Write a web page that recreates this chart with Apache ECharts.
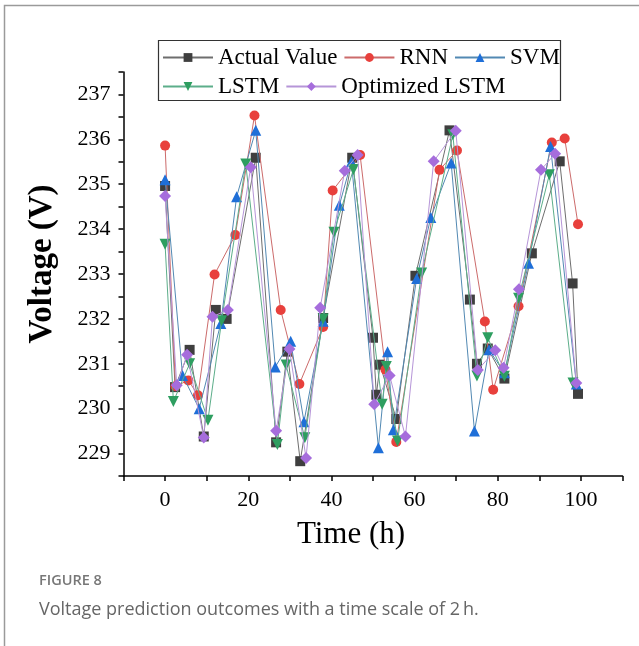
<!DOCTYPE html>
<html>
<head>
<meta charset="utf-8">
<script src="https://cdn.jsdelivr.net/npm/echarts@6/dist/echarts.min.js"></script>
<style>
html,body{margin:0;padding:0;background:#fff;}
#c{width:639px;height:646px;}
</style>
</head>
<body>
<div id="c"></div>
<script>
const seriesNames = ['Actual Value', 'RNN', 'SVM', 'LSTM', 'Optimized LSTM'];

const actualTime = [0,2.4,5.9,9.3,12.2,14.8,21.8,26.7,29.4,32.5,38,45,50,50.8,51.7,55.6,60.2,68.4,73.3,75,77.6,81.6,88.2,94.9,98,99.3];
const actualVoltage = [234.96,230.48,231.31,229.38,232.2,232.0,235.59,229.25,231.27,228.83,232.02,235.59,231.58,230.31,230.98,229.77,232.96,236.2,232.43,231.0,231.34,230.67,233.46,235.51,232.79,230.33];

const rnnTime = [0,2.5,5.6,7.9,11.9,16.9,21.5,27.8,32.3,38,40.3,46.9,53,55.6,66,70.2,76.9,78.9,85,93,96.1,99.3];
const rnnVoltage = [235.86,230.5,230.63,230.3,232.99,233.87,236.53,232.2,230.55,231.82,234.86,235.65,230.87,229.26,235.32,235.75,231.94,230.42,232.28,235.93,236.02,234.11];

const svmTime = [0,4.2,8.2,13.4,17.2,21.8,26.5,30.2,33.4,38,41.9,44.8,51.3,53.5,54.9,60.5,63.9,68.8,74.4,77.9,81.6,87.4,92.7,98.9];
const svmVoltage = [235.1,230.74,230.0,231.9,234.72,236.2,230.93,231.5,229.71,231.95,234.53,235.5,229.13,231.27,229.53,232.9,234.26,235.47,229.5,231.31,230.8,233.24,235.84,230.55];

const lstmTime = [0,2,5.9,10.3,13.6,19.4,27,29.1,33.6,38,40.6,45.3,52.2,53.2,55.9,61.7,69.2,75,77.6,81.6,85,92.4,98.1];
const lstmVoltage = [233.66,230.16,231.0,229.74,231.96,235.45,229.2,230.97,229.35,232.0,233.93,235.33,230.1,230.94,229.28,233.02,236.1,230.73,231.58,230.72,232.46,235.21,230.57];

const optTime = [0,2.8,5.3,9.3,11.4,15.1,20.6,26.7,29.9,33.9,37.3,43.2,46.3,50.3,54,57.8,64.6,69.9,75.2,79.4,81.4,85.1,90.4,93.8,98.9];
const optVoltage = [234.74,230.52,231.2,229.36,232.05,232.2,235.38,229.51,231.33,228.9,232.25,235.3,235.65,230.1,230.74,229.38,235.51,236.19,230.86,231.3,230.91,232.66,235.32,235.68,230.57];

const xTickLabels = [0,20,40,60,80,100];
const yTickLabels = [229,230,231,232,233,234,235,236,237];

function pairs(t, v){ return t.map((x,i)=>[x, v[i]]); }

const serif = '"Liberation Serif","Times New Roman",serif';
const styles = [
  {symbol:'rect', size:10, rot:0, marker:'#3f3f3f', line:'#6e6e6e'},
  {symbol:'circle', size:10, rot:0, marker:'#e8403c', line:'#cc6b6b'},
  {symbol:'triangle', size:11, rot:0, marker:'#1f6fd8', line:'#5289b3'},
  {symbol:'triangle', size:11, rot:180, marker:'#2e9e60', line:'#5cae8a'},
  {symbol:'diamond', size:12, rot:0, marker:'#a66ddc', line:'#b695d8'}
];
const datas = [
  pairs(actualTime, actualVoltage),
  pairs(rnnTime, rnnVoltage),
  pairs(svmTime, svmVoltage),
  pairs(lstmTime, lstmVoltage),
  pairs(optTime, optVoltage)
];

const series = seriesNames.map((n,i)=>({
  name:n, type:'line', data:datas[i],
  symbol:styles[i].symbol, symbolSize:styles[i].size, symbolRotate:styles[i].rot,
  showAllSymbol:true,
  itemStyle:{color:styles[i].marker},
  lineStyle:{color:styles[i].line, width:1},
  z: 2+i
}));

const legendCommon = {
  orient:'horizontal', itemWidth:50, itemHeight:11, itemGap:6,
  textStyle:{fontFamily:serif, fontSize:23, color:'#000'},
  padding:0
};

const chart = echarts.init(document.getElementById('c'), null, {renderer:'canvas'});
chart.setOption({
  backgroundColor:'#fff',
  animation:false,
  grid:{left:123.5, right:16.5, top:72, bottom:170, containLabel:false},
  legend:[
    Object.assign({}, legendCommon, {data:['Actual Value','RNN','SVM'], left:162, top:46}),
    Object.assign({}, legendCommon, {data:['LSTM','Optimized LSTM'], left:162, top:75})
  ],
  xAxis:{
    type:'value', min:-10, max:110, interval:10,
    axisLine:{show:true, onZero:false, lineStyle:{color:'#000', width:1.5}},
    axisTick:{show:true, inside:false, length:5, lineStyle:{color:'#000', width:1.5}},
    axisLabel:{fontFamily:serif, fontSize:22, color:'#000', margin:13,
      formatter:(v)=> xTickLabels.indexOf(Math.round(v))>=0 && Math.abs(v-Math.round(v))<1e-6 ? String(Math.round(v)) : ''},
    splitLine:{show:false}
  },
  yAxis:{
    type:'value', min:228.5, max:237.5, interval:0.5,
    axisLine:{show:true, onZero:false, lineStyle:{color:'#000', width:1.5}},
    axisTick:{show:true, inside:false, length:5, lineStyle:{color:'#000', width:1.5}},
    axisLabel:{fontFamily:serif, fontSize:22, color:'#000', margin:13,
      formatter:(v)=> { const r=Math.round(v); return (Math.abs(v-r)<1e-6 && yTickLabels.indexOf(r)>=0) ? String(r) : ''; }},
    splitLine:{show:false}
  },
  graphic:[
    {type:'rect', shape:{x:4.5, y:5.5, width:700, height:700}, style:{fill:'none', stroke:'#9a9a9a', lineWidth:1.5}, silent:true, z:-1},
    {type:'rect', shape:{x:158.5, y:40.5, width:402, height:60}, style:{fill:'none', stroke:'#333', lineWidth:1.2}, silent:true, z:10},
    {type:'text', x:42, y:264, rotation:Math.PI/2, style:{text:'Voltage (V)', font:'bold 33px "Liberation Serif", serif', fill:'#000', align:'center', verticalAlign:'middle'}, silent:true},
    {type:'text', x:351, y:535, style:{text:'Time (h)', font:'31px "Liberation Serif", serif', fill:'#000', align:'center', verticalAlign:'middle'}, silent:true},
    {type:'text', x:39, y:581, style:{text:'FIGURE 8', font:'600 14.5px "Open Sans", sans-serif', fill:'#777', verticalAlign:'middle'}, silent:true},
    {type:'text', x:39, y:610, style:{text:'Voltage prediction outcomes with a time scale of 2\u2009h.', font:'18px "Open Sans", sans-serif', fill:'#666', verticalAlign:'middle'}, silent:true}
  ],
  series: series
});
</script>
</body>
</html>
